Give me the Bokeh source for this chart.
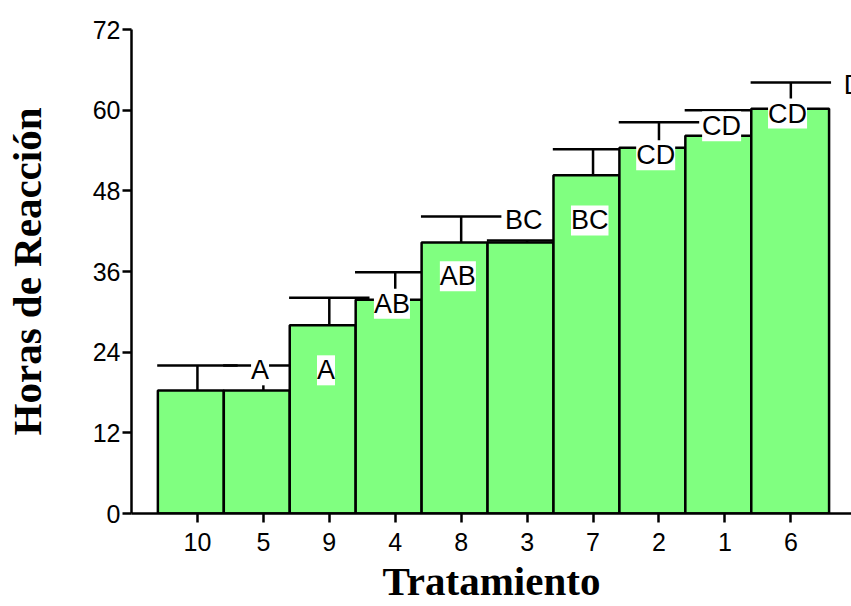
from bokeh.plotting import figure
from bokeh.models import ColumnDataSource, LabelSet, FixedTicker, Range1d
from bokeh.core.properties import value
from bokeh.embed import file_html
from bokeh.resources import INLINE

# ---- data ----
categories = ["10", "5", "9", "4", "8", "3", "7", "2", "1", "6"]
means = [18.3, 18.3, 28.0, 31.8, 40.3, 40.3, 50.3, 54.4, 56.2, 60.2]
errors = [3.7, 3.7, 4.1, 4.1, 3.9, 0.3, 3.9, 3.8, 3.8, 3.9]
letters = ["A", "A", "AB", "AB", "BC", "BC", "CD", "CD", "CD", "D"]
letter_y = [21.3, 21.3, 31.2, 35.3, 43.7, 43.6, 53.3, 57.6, 59.5, 63.8]
y_ticks = [0, 12, 24, 36, 48, 60, 72]

n = len(categories)
idx = list(range(n))
left = [i - 0.6 for i in idx]
right = [i + 0.4 for i in idx]
right[-1] = idx[-1] + 0.58
tops = [m + e for m, e in zip(means, errors)]

bars = ColumnDataSource(dict(left=left, right=right, top=means, bottom=[0] * n))
errs = ColumnDataSource(dict(x=idx, y0=means, y1=tops,
                             c0=[i - 0.61 for i in idx], c1=[i + 0.61 for i in idx]))
labs = ColumnDataSource(dict(x=[i + 0.95 for i in idx], y=letter_y, text=letters))

p = figure(width=851, height=606, output_backend="svg", toolbar_location=None,
           x_range=Range1d(-1.0, 9.92), y_range=Range1d(0, 72),
           min_border_left=131, min_border_right=0, min_border_top=29,
           min_border_bottom=93)
p.outline_line_color = None
p.xgrid.visible = False
p.ygrid.visible = False
p.background_fill_color = "white"

# error bars (drawn first, bars cover them)
p.segment(x0="x", y0="y0", x1="x", y1="y1", source=errs, line_color="black", line_width=2.5)
p.segment(x0="c0", y0="y1", x1="c1", y1="y1", source=errs, line_color="black", line_width=2.5)

p.quad(left="left", right="right", top="top", bottom="bottom", source=bars,
       fill_color="#80FF80", line_color="black", line_width=2.5)

ls = LabelSet(x="x", y="y", text="text", source=labs,
              text_align="center", text_baseline="middle",
              text_font=value("Liberation Sans"), text_font_size=value("27px"),
              text_color="black", background_fill_color="white")
p.add_layout(ls)

for ax in (p.xaxis[0], p.yaxis[0]):
    ax.axis_line_width = 2.5
    ax.major_tick_line_width = 2.5
    ax.major_tick_out = 9
    ax.major_tick_in = 0
    ax.minor_tick_line_color = None
    ax.major_label_text_font = "Liberation Sans"
    ax.major_label_text_font_size = "25px"
    ax.major_label_text_color = "black"
    ax.axis_label_text_font = "Liberation Serif"
    ax.axis_label_text_font_style = "bold"
    ax.axis_label_text_font_size = "41px"
    ax.axis_label_text_color = "black"

p.xaxis.ticker = FixedTicker(ticks=idx)
p.xaxis.major_label_overrides = {i: c for i, c in zip(idx, categories)}
p.xaxis.major_label_standoff = 10
p.xaxis.axis_label = "Tratamiento"
p.xaxis.axis_label_standoff = 4

p.yaxis.ticker = FixedTicker(ticks=y_ticks)
p.yaxis.axis_label = "Horas de Reacción"
p.yaxis.major_label_standoff = 2
p.yaxis.axis_label_standoff = 40

open("out.html", "w").write(file_html(p, INLINE))
